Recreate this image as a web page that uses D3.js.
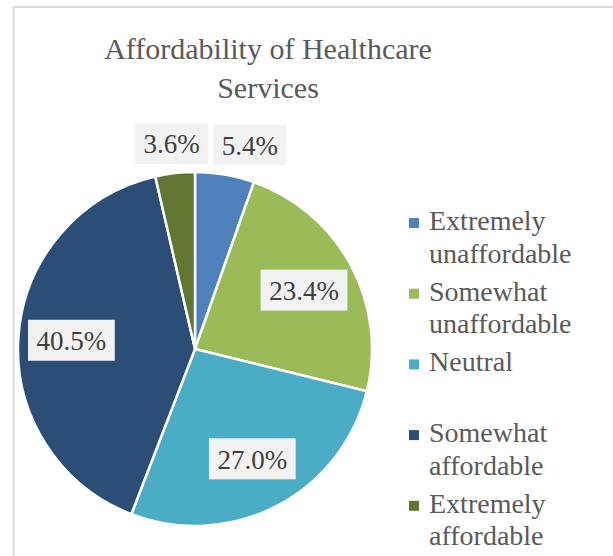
<!DOCTYPE html>
<html>
<head>
<meta charset="utf-8">
<script src="https://cdn.jsdelivr.net/npm/d3@7"></script>
<style>
  body { margin: 0; background: #fff; }
  svg text { font-family: "Liberation Serif", "DejaVu Serif", serif; }
</style>
</head>
<body>
<svg></svg>
<script>
const w = 613;
const h = 556;

const titleLines = ["Affordability of Healthcare", "Services"];
const categories = [
  "Extremely unaffordable",
  "Somewhat unaffordable",
  "Neutral",
  "Somewhat affordable",
  "Extremely affordable"
];
const values = [5.4, 23.4, 27.0, 40.5, 3.6];
const colors = ["#4f81bd", "#9bbb59", "#4bacc6", "#2c4d75", "#617731"];

const cx = 195;
const cy = 349;
const radius = 177;
const serif = "'Liberation Serif', 'DejaVu Serif', serif";

const svg = d3.select("svg").attr("width", w).attr("height", h);

// chart frame
svg.append("rect")
  .attr("x", 13.5).attr("y", 7)
  .attr("width", w + 20).attr("height", h + 20)
  .attr("fill", "none")
  .attr("stroke", "#d9d9d9")
  .attr("stroke-width", 2);

/** Title */
svg.append("text")
  .attr("x", 268)
  .attr("y", 59)
  .attr("text-anchor", "middle")
  .attr("fill", "#595959")
  .attr("font-family", serif)
  .style("font-size", "30px")
  .selectAll("tspan")
  .data(titleLines)
  .enter()
  .append("tspan")
  .attr("x", 268)
  .attr("dy", (d, i) => (i === 0 ? 0 : 39))
  .text((d) => d);

const data = categories.map((c, i) => ({ name: c, value: values[i], color: colors[i] }));

const pie = d3.pie().sort(null).value((d) => d.value);
const arcs = pie(data);

const arc = d3.arc().innerRadius(0).outerRadius(radius);
const labelArc = d3.arc().innerRadius(radius * 0.7).outerRadius(radius * 0.7);
const outerArc = d3.arc().innerRadius(radius * 1.17).outerRadius(radius * 1.17);

const g = svg.append("g").attr("transform", `translate(${cx},${cy})`);

/** Slices */
g.selectAll("path")
  .data(arcs)
  .enter()
  .append("path")
  .attr("d", arc)
  .attr("fill", (d) => d.data.color)
  .attr("stroke", "#fff")
  .attr("stroke-width", 2.5)
  .attr("stroke-linejoin", "round");

/** Data labels */
const fmt = (v) => d3.format(".1f")(v) + "%";
const labels = arcs.map((d) => {
  const small = d.data.value < 10;
  const [x, y] = small ? outerArc.centroid(d) : labelArc.centroid(d);
  return { text: fmt(d.data.value), x, y, small };
});

const labelG = g.selectAll("g.lbl")
  .data(labels)
  .enter()
  .append("g")
  .attr("class", "lbl");

const rects = labelG.append("rect").attr("fill", "#f2f2f2");
const texts = labelG.append("text")
  .attr("text-anchor", "middle")
  .attr("dominant-baseline", "central")
  .attr("fill", "#404040")
  .attr("font-family", serif)
  .style("font-size", "27px")
  .text((d) => d.text);

texts.each(function (d) {
  d.w = this.getComputedTextLength() + 17;
});

// push overlapping outside labels apart
const outside = labels.filter((d) => d.small).sort((a, b) => a.x - b.x);
for (let i = 1; i < outside.length; i++) {
  const prev = outside[i - 1];
  const cur = outside[i];
  const minX = prev.x + prev.w / 2 + 5 + cur.w / 2;
  if (cur.x < minX) cur.x = minX;
}

labelG.attr("transform", (d) => `translate(${d.x},${d.y})`);
rects
  .attr("x", (d) => -d.w / 2)
  .attr("y", -20.5)
  .attr("width", (d) => d.w)
  .attr("height", 41);
texts.attr("y", 1);

/** Legend */
const legendX = 409;
const legendY = 230;
const entryH = 70.7;
const lineH = 32.5;

const legend = svg.selectAll("g.legend")
  .data(data)
  .enter()
  .append("g")
  .attr("class", "legend")
  .attr("transform", (d, i) => `translate(${legendX},${legendY + i * entryH})`);

legend.append("rect")
  .attr("x", 0)
  .attr("y", -12)
  .attr("width", 10)
  .attr("height", 10)
  .attr("fill", (d) => d.color);

legend.append("text")
  .attr("fill", "#595959")
  .attr("font-family", serif)
  .style("font-size", "28px")
  .selectAll("tspan")
  .data((d) => d.name.split(" "))
  .enter()
  .append("tspan")
  .attr("x", 20)
  .attr("y", (d, i) => i * lineH)
  .text((d) => d);
</script>
</body>
</html>
